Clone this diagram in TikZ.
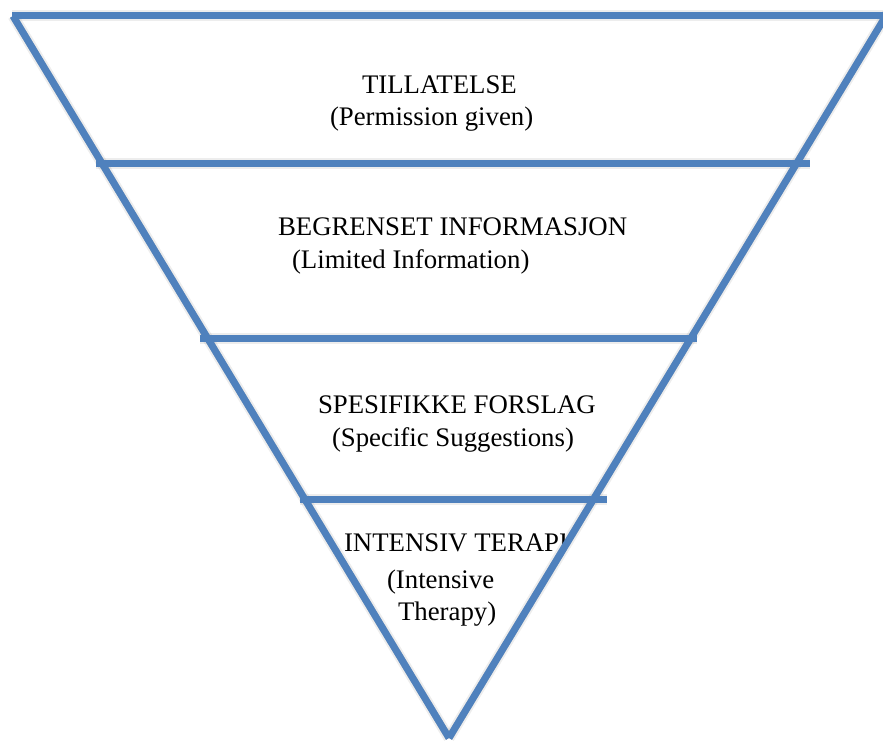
\documentclass[tikz,border=0pt]{standalone}
\usepackage{fontspec}
\setmainfont{Liberation Serif}
\definecolor{pyrblue}{HTML}{4F81BD}
\begin{document}
\begin{tikzpicture}[x=1bp,y=-1bp,
  bar/.style={line width=7bp, draw=pyrblue, line cap=butt},
  shadowA/.style={line width=11bp, draw=black, opacity=0.07, line cap=butt},
  shadowB/.style={line width=7bp, draw=black, opacity=0.18, line cap=butt},
  lbl/.style={anchor=base west, inner sep=0pt, outer sep=0pt, font=\fontsize{26.8bp}{31bp}\selectfont}]
\useasboundingbox (0,0) rectangle (883,742);
\clip (0,0) rectangle (883,742);
% corners
\coordinate (TL) at (12,16);
\coordinate (TR) at (886,16);
\coordinate (LT) at (13,16);
\coordinate (RT) at (887,14);
\coordinate (AP) at (449,738);
\coordinate (L2a) at (96,163);
\coordinate (L2b) at (810,163);
\coordinate (L3a) at (200,338);
\coordinate (L3b) at (697,338);
\coordinate (L4a) at (300,499);
\coordinate (L4b) at (607,499);
% shadows
\begin{scope}[shift={(2,4)}]
  \foreach \a/\b in {TL/TR, LT/AP, RT/AP, L2a/L2b, L3a/L3b, L4a/L4b}{
    \draw[shadowA] (\a) -- (\b);
    \draw[shadowB] (\a) -- (\b);
  }
\end{scope}
% texts
\node[lbl] (t1) at (362,93) {TILLATELSE};
\node[lbl] (t1b) at (330,125) {(Permission given)};
\node[lbl] (t2) at (278,235) {BEGRENSET INFORMASJON};
\node[lbl] (t2b) at (292,268) {(Limited Information)};
\node[lbl] (t3) at (318,413) {SPESIFIKKE FORSLAG};
\node[lbl] (t3b) at (332,446) {(Specific Suggestions)};
\begin{scope}
  \clip (330,505) rectangle (564,562);
  \node[lbl] (t4) at (344,551) {INTENSIV TERAPI};
\end{scope}
\node[lbl] (t4b) at (387,588) {(Intensive};
\node[lbl] (t4c) at (398,620) {Therapy)};
% lines
\draw[bar] (TL) -- (TR);
\draw[bar] (L2a) -- (L2b);
\draw[bar] (L3a) -- (L3b);
\draw[bar] (L4a) -- (L4b);
\draw[bar] (LT) -- (AP);
\draw[bar] (RT) -- (AP);
\end{tikzpicture}
\end{document}
